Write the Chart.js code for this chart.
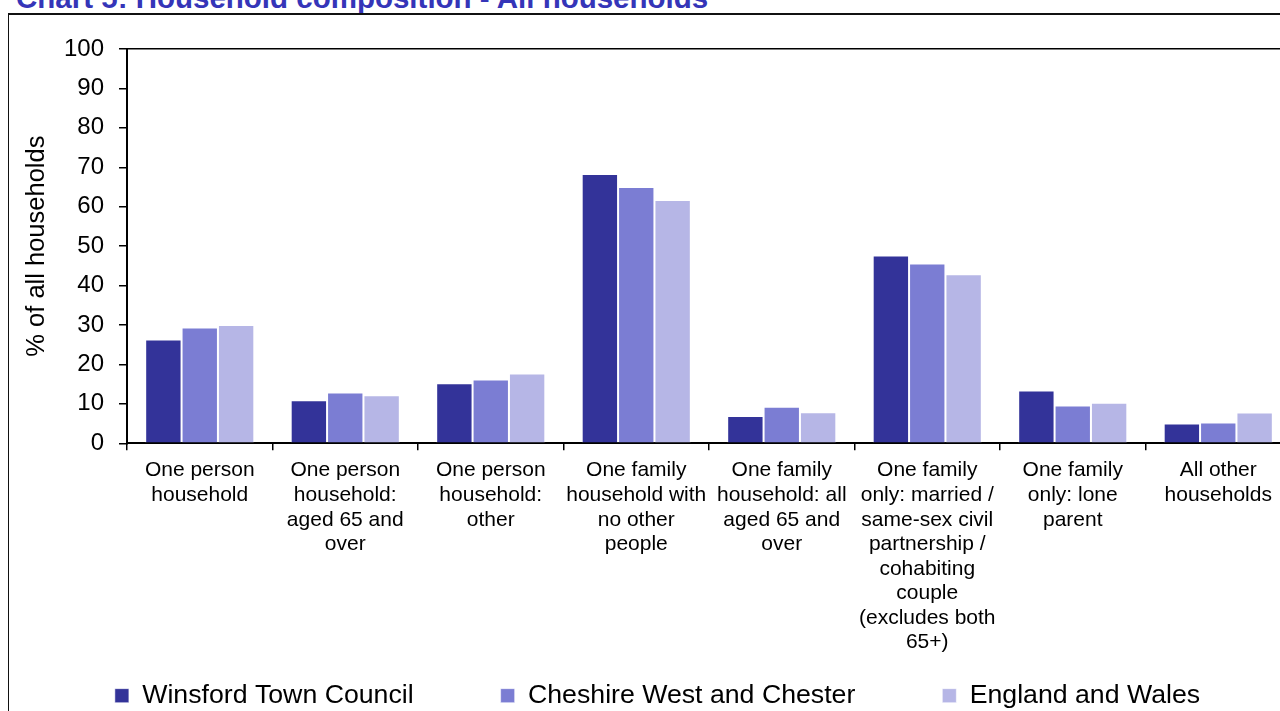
<!DOCTYPE html>
<html>
<head>
<meta charset="utf-8">
<script src="https://cdn.jsdelivr.net/npm/chart.js@4.4.1/dist/chart.umd.min.js"></script>
<style>
  html, body { margin: 0; padding: 0; width: 1280px; height: 711px; overflow: hidden; background: #fff; }
  .chart-title {
    position: absolute; left: 16px; top: -17px;
    font: bold 29.5px "Liberation Sans", Arial, sans-serif; line-height: 29.5px;
    color: #3535b8; white-space: nowrap;
  }
  .frame-top { position: absolute; left: 8px; top: 13px; width: 1290px; height: 2px; background: #111; }
  .frame-left { position: absolute; left: 8px; top: 13px; width: 1px; height: 720px; background: #111; }
  #chart { position: absolute; left: 0; top: 0; }
</style>
</head>
<body>
<div class="chart-title">Chart 5: Household composition - All households</div>
<div class="frame-top"></div>
<div class="frame-left"></div>
<canvas id="chart" width="1300" height="730"></canvas>
<script>
const categories = [
  ["One person", "household"],
  ["One person", "household:", "aged 65 and", "over"],
  ["One person", "household:", "other"],
  ["One family", "household with", "no other", "people"],
  ["One family", "household: all", "aged 65 and", "over"],
  ["One family", "only: married /", "same-sex civil", "partnership /", "cohabiting", "couple", "(excludes both", "65+)"],
  ["One family", "only: lone", "parent"],
  ["All other", "households"]
];
const seriesNames = ["Winsford Town Council", "Cheshire West and Chester", "England and Wales"];
const winsford = [26.3, 10.9, 15.2, 68.3, 6.9, 47.6, 13.4, 5.0];
const cheshire = [29.4, 12.9, 16.2, 65.0, 9.3, 45.6, 9.6, 5.3];
const englandWales = [30.0, 12.2, 17.7, 61.7, 7.9, 42.9, 10.3, 7.8];
const yTicks = [0, 10, 20, 30, 40, 50, 60, 70, 80, 90, 100];

const colours = ["#333399", "#7b7dd3", "#b6b6e6"];
const font = '"Liberation Sans", Arial, sans-serif';

// the wrapped category labels run below the axis box, so let them draw there
const labelRoom = {
  id: "labelRoom",
  afterLayout(chart) {
    chart.scales.x.bottom = chart.height;
  }
};

const ctx = document.getElementById("chart");

new Chart(ctx, {
  type: "bar",
  data: {
    labels: categories,
    datasets: [winsford, cheshire, englandWales].map((values, i) => ({
      label: seriesNames[i],
      data: values,
      backgroundColor: colours[i],
      borderColor: "rgba(255,255,255,0.5)",
      borderWidth: 1,
      barPercentage: 1.0,
      categoryPercentage: 0.75
    }))
  },
  plugins: [labelRoom],
  options: {
    responsive: false,
    animation: false,
    layout: { padding: { top: 49, left: 24, right: 9, bottom: 11 } },
    plugins: {
      tooltip: { enabled: false },
      legend: {
        position: "bottom",
        labels: {
          color: "#000",
          boxWidth: 14,
          boxHeight: 14,
          padding: 87,
          font: { family: font, size: 26.7 }
        }
      }
    },
    scales: {
      x: {
        afterFit: scale => { scale.height = 152; },
        border: { color: "#000", width: 2 },
        grid: {
          offset: true,
          drawOnChartArea: false,
          color: "#000",
          tickLength: 7,
          lineWidth: 1.5
        },
        ticks: {
          color: "#000",
          autoSkip: false,
          maxRotation: 0,
          padding: 8,
          font: { family: font, size: 21, lineHeight: 1.17 }
        }
      },
      y: {
        min: 0,
        max: 100,
        afterFit: scale => { scale.width = 103; },
        afterBuildTicks: scale => { scale.ticks = yTicks.map(v => ({ value: v })); },
        border: { color: "#000", width: 2 },
        grid: {
          color: c => (c.tick && c.tick.value === 100 ? "#000" : "rgba(0,0,0,0)"),
          lineWidth: 1.5,
          tickColor: "#000",
          tickLength: 8
        },
        ticks: {
          color: "#000",
          padding: 15,
          font: { family: font, size: 24 }
        },
        title: {
          display: true,
          text: "% of all households",
          color: "#000",
          padding: { top: -2, bottom: 0 },
          font: { family: font, size: 25.5 }
        }
      }
    }
  }
});
</script>
</body>
</html>
